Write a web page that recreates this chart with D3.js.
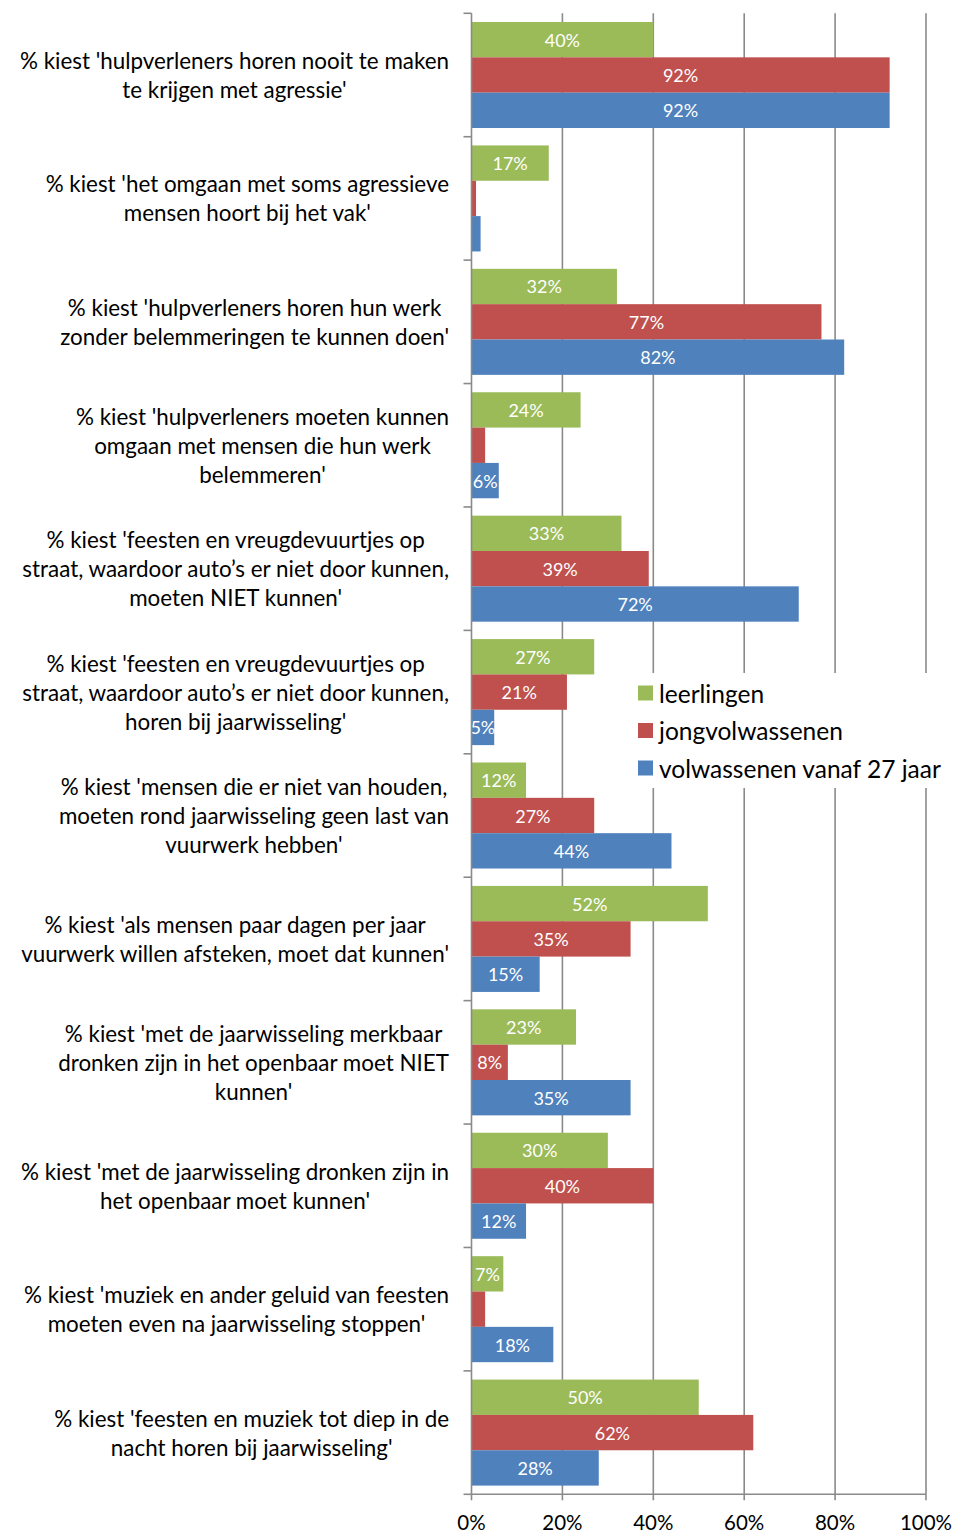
<!DOCTYPE html>
<html><head><meta charset="utf-8">
<script src="https://cdn.jsdelivr.net/npm/d3@7"></script>
<style>body{margin:0;background:#fff}svg{display:block}text{font-family:Lato,"Open Sans",sans-serif}</style>
</head><body>
<script>
const categories = [
  ["% kiest 'hulpverleners horen nooit te maken", "te krijgen met agressie'"],
  ["% kiest 'het omgaan met soms agressieve", "mensen hoort bij het vak'"],
  ["% kiest 'hulpverleners horen hun werk", "zonder belemmeringen te kunnen doen'"],
  ["% kiest 'hulpverleners moeten kunnen", "omgaan met mensen die hun werk", "belemmeren'"],
  ["% kiest 'feesten en vreugdevuurtjes op", "straat, waardoor auto’s er niet door kunnen,", "moeten NIET kunnen'"],
  ["% kiest 'feesten en vreugdevuurtjes op", "straat, waardoor auto’s er niet door kunnen,", "horen bij jaarwisseling'"],
  ["% kiest 'mensen die er niet van houden,", "moeten rond jaarwisseling geen last van", "vuurwerk hebben'"],
  ["% kiest 'als mensen paar dagen per jaar", "vuurwerk willen afsteken, moet dat kunnen'"],
  ["% kiest 'met de jaarwisseling merkbaar", "dronken zijn in het openbaar moet NIET", "kunnen'"],
  ["% kiest 'met de jaarwisseling dronken zijn in", "het openbaar moet kunnen'"],
  ["% kiest 'muziek en ander geluid van feesten", "moeten even na jaarwisseling stoppen'"],
  ["% kiest 'feesten en muziek tot diep in de", "nacht horen bij jaarwisseling'"]
];
const seriesNames = ["leerlingen", "jongvolwassenen", "volwassenen vanaf 27 jaar"];
const leerlingen      = [40, 17, 32, 24, 33, 27, 12, 52, 23, 30, 7, 50];
const jongvolwassenen = [92, 1, 77, 3, 39, 21, 27, 35, 8, 40, 3, 62];
const volwassenen     = [92, 2, 82, 6, 72, 5, 44, 15, 35, 12, 18, 28];
const colors = ["#9BBB59", "#C0504D", "#4F81BD"];
const xTicks = [0, 20, 40, 60, 80, 100];
const minLabel = 5;

const W = 954, H = 1535;
const svg = d3.select("body").append("svg").attr("width", W).attr("height", H);

const x = d3.scaleLinear().domain([0, 100]).range([471.5, 926]);
const y = d3.scaleBand().domain(d3.range(categories.length)).range([13.3, 1494.3]).padding(0);
const inner = d3.scaleBand().domain([0, 1, 2]).range([8.7, y.bandwidth() - 8.7]).padding(0);
const series = [leerlingen, jongvolwassenen, volwassenen];
const gridColor = "#8a8a8a";

// gridlines
svg.append("g").selectAll("line").data(xTicks.filter(d => d > 0)).join("line")
  .attr("x1", d => x(d)).attr("x2", d => x(d))
  .attr("y1", y.range()[0]).attr("y2", y.range()[1])
  .attr("stroke", gridColor).attr("stroke-width", 1.6);

// bars
const groups = svg.append("g").selectAll("g").data(categories).join("g")
  .attr("transform", (d, i) => `translate(0,${y(i)})`);
groups.each(function(cat, i) {
  const g = d3.select(this);
  series.forEach((vals, s) => {
    const v = vals[i];
    g.append("rect").attr("x", x(0)).attr("y", inner(s))
      .attr("width", x(v) - x(0)).attr("height", inner.bandwidth())
      .attr("fill", colors[s]);
  });
  series.forEach((vals, s) => {
    const v = vals[i];
    if (v >= minLabel) {
      g.append("text").attr("x", (x(0) + x(v)) / 2).attr("y", inner(s) + inner.bandwidth() / 2)
        .attr("text-anchor", "middle").attr("dominant-baseline", "central")
        .attr("fill", "#fff").attr("font-size", 18).text(v + "%");
    }
  });
});

// axes lines
svg.append("line").attr("x1", x(0)).attr("x2", x(0)).attr("y1", y.range()[0]).attr("y2", y.range()[1])
  .attr("stroke", gridColor).attr("stroke-width", 1.6);
svg.append("line").attr("x1", x(0)).attr("x2", x(100)).attr("y1", y.range()[1]).attr("y2", y.range()[1])
  .attr("stroke", gridColor).attr("stroke-width", 1.6);
// category ticks
svg.append("g").selectAll("line").data(d3.range(categories.length + 1)).join("line")
  .attr("x1", x(0) - 8).attr("x2", x(0))
  .attr("y1", d => y.range()[0] + d * y.step()).attr("y2", d => y.range()[0] + d * y.step())
  .attr("stroke", gridColor).attr("stroke-width", 1.6);
// x ticks
svg.append("g").selectAll("line").data(xTicks).join("line")
  .attr("x1", d => x(d)).attr("x2", d => x(d))
  .attr("y1", y.range()[1]).attr("y2", y.range()[1] + 6)
  .attr("stroke", gridColor).attr("stroke-width", 1.6);
svg.append("g").selectAll("text").data(xTicks).join("text")
  .attr("x", d => x(d)).attr("y", 1522).attr("text-anchor", "middle").attr("dominant-baseline", "central")
  .attr("font-size", 20.5).attr("fill", "#000").text(d => d + "%");

// category labels
const lh = 29, rightEdge = 449;
categories.forEach((lines, i) => {
  const cy = y(i) + y.bandwidth() / 2;
  const g = svg.append("g");
  const texts = lines.map((ln, k) => g.append("text")
    .attr("y", cy + (k - (lines.length - 1) / 2) * lh)
    .attr("dominant-baseline", "central").attr("text-anchor", "middle")
    .attr("font-size", 22.4).attr("fill", "#000").text(ln));
  const maxW = d3.max(texts, t => t.node().getComputedTextLength());
  texts.forEach(t => t.attr("x", rightEdge - maxW / 2));
});

// legend
const lg = svg.append("g");
lg.append("rect").attr("x", 628).attr("y", 673).attr("width", 326).attr("height", 115).attr("fill", "#fff");
const ly = [693, 730.5, 768];
seriesNames.forEach((n, s) => {
  lg.append("rect").attr("x", 638).attr("y", ly[s] - 7.5).attr("width", 15).attr("height", 15).attr("fill", colors[s]);
  lg.append("text").attr("x", 659).attr("y", ly[s]).attr("dominant-baseline", "central")
    .attr("font-size", 24.5).attr("fill", "#000").text(n);
});
</script>
</body></html>
